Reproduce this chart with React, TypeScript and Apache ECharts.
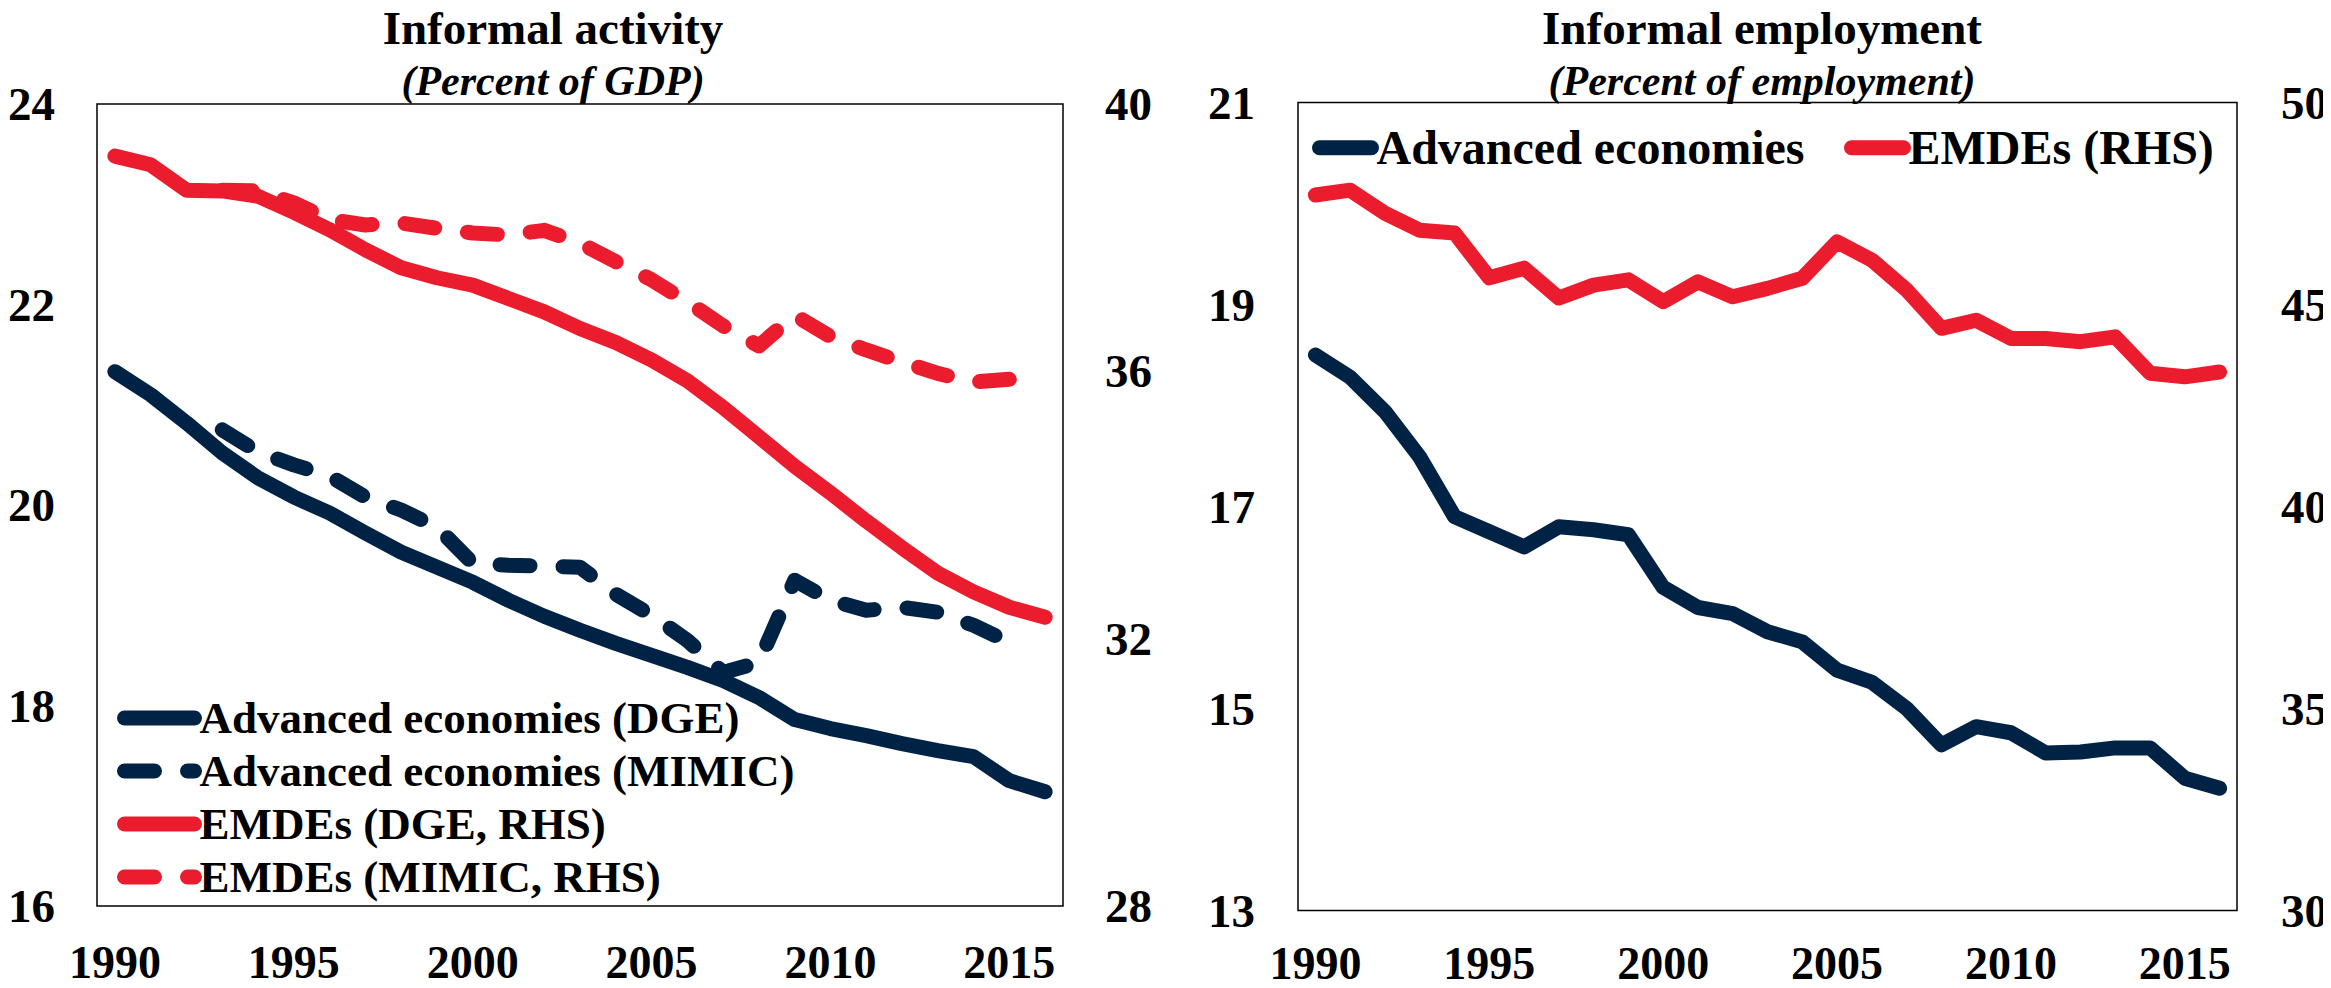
import React, { useEffect, useRef } from 'react';
import * as echarts from 'echarts';

const years = ['1990','1991','1992','1993','1994','1995','1996','1997','1998','1999','2000','2001','2002','2003','2004','2005','2006','2007','2008','2009','2010','2011','2012','2013','2014','2015','2016'];

// Informal activity (percent of GDP)
const advDGE = [21.33,21.10,20.82,20.52,20.27,20.08,19.92,19.72,19.53,19.38,19.23,19.05,18.89,18.75,18.62,18.50,18.38,18.25,18.08,17.86,17.77,17.70,17.62,17.55,17.49,17.25,17.14];
const advMIMIC = [null,null,null,20.75,20.53,20.40,20.29,20.08,19.95,19.78,19.42,19.40,19.39,19.38,19.11,18.90,18.65,18.33,18.43,19.25,19.05,18.95,18.98,18.93,18.80,18.63,null];
const emdeDGE = [39.22,39.09,38.71,38.70,38.62,38.38,38.12,37.82,37.55,37.40,37.29,37.09,36.89,36.64,36.43,36.17,35.86,35.46,35.02,34.58,34.18,33.76,33.36,32.98,32.70,32.47,32.32];
const emdeMIMIC = [null,null,null,38.71,38.70,38.52,38.27,38.19,38.22,38.14,38.07,38.04,38.11,37.92,37.64,37.37,37.04,36.68,36.38,36.84,36.52,36.32,36.14,35.97,35.84,35.88,null];

// Informal employment (percent of employment)
const advEmp = [18.50,18.28,17.94,17.49,16.90,16.75,16.60,16.80,16.77,16.72,16.20,16.00,15.94,15.76,15.66,15.38,15.26,15.00,14.64,14.82,14.76,14.56,14.57,14.61,14.61,14.31,14.21];
const emdeEmp = [47.71,47.83,47.26,46.84,46.77,45.66,45.90,45.16,45.48,45.61,45.07,45.56,45.19,45.40,45.65,46.55,46.10,45.36,44.41,44.61,44.16,44.16,44.08,44.20,43.30,43.21,43.33];

const leftTicksL = { min: 16, max: 24, interval: 2 };
const leftTicksR = { min: 28, max: 40, interval: 4 };
const rightTicksL = { min: 13, max: 21, interval: 2 };
const rightTicksR = { min: 30, max: 50, interval: 5 };

const names = {
  advDGE: 'Advanced economies (DGE)',
  advMIMIC: 'Advanced economies (MIMIC)',
  emdeDGE: 'EMDEs (DGE, RHS)',
  emdeMIMIC: 'EMDEs (MIMIC, RHS)',
  advEmp: 'Advanced economies',
  emdeEmp: 'EMDEs (RHS)',
};

const FONT = '"Liberation Serif", "Times New Roman", Times, serif';
const NAVY = '#002345';
const RED = '#EB1C2D';
const LW = 15;
const DASH = [30, 33];

export default function App() {
  const ref = useRef<HTMLDivElement>(null);
  useEffect(() => {
    if (!ref.current) return;
    const chart = echarts.init(ref.current, undefined, { renderer: 'svg' });
    const label = (margin: number, fs = 47) => ({
      fontSize: fs, fontWeight: 'bold', color: '#000', fontFamily: FONT, margin,
    });
    const xAx = (gridIndex: number, margin: number) => ({
      type: 'category', gridIndex, data: years, boundaryGap: true,
      axisLine: { show: false }, axisTick: { show: false }, splitLine: { show: false },
      axisLabel: { ...label(margin, 46), interval: 4, lineHeight: 34 },
    });
    const yAx = (gridIndex: number, t: any, position: string, margin: number) => ({
      type: 'value', gridIndex, position, min: t.min, max: t.max, interval: t.interval,
      axisLine: { show: false }, axisTick: { show: false }, splitLine: { show: false },
      axisLabel: label(margin),
    });
    const line = (name: string, data: any[], color: string, xi: number, yi: number, dashed: boolean) => ({
      type: 'line', name, data, xAxisIndex: xi, yAxisIndex: yi, symbol: 'none', showSymbol: false,
      connectNulls: false,
      lineStyle: { color, width: LW, type: dashed ? DASH : 'solid', cap: 'round', join: 'round' },
      itemStyle: { color },
      emphasis: { disabled: true },
    });
    const legendText = (fs: number) => ({ fontSize: fs, fontWeight: 'bold', color: '#000', fontFamily: FONT, lineHeight: fs });
    const legendCommon = {
      padding: 0, itemHeight: 16, selectedMode: false,
      lineStyle: { width: LW, cap: 'round' },
      itemStyle: { opacity: 0 },
    };
    const option: any = {
      animation: false,
      backgroundColor: '#fff',
      textStyle: { fontFamily: FONT },
      grid: [
        { left: 97, top: 104, width: 966, height: 802, show: true, borderColor: '#000', borderWidth: 1.5, backgroundColor: 'transparent' },
        { left: 1298, top: 102.5, width: 941, height: 808, show: true, borderColor: '#000', borderWidth: 1.5, backgroundColor: 'transparent' },
      ],
      xAxis: [xAx(0, 39), xAx(1, 36)],
      yAxis: [
        yAx(0, leftTicksL, 'left', 42),
        yAx(0, leftTicksR, 'right', 42),
        yAx(1, rightTicksL, 'left', 43),
        yAx(1, rightTicksR, 'right', 44),
      ],
      legend: [
        { ...legendCommon, textStyle: legendText(45), data: [names.advDGE, names.advMIMIC, names.emdeDGE, names.emdeMIMIC], orient: 'vertical', left: 117, top: 695.5, itemWidth: 70, itemGap: 8 },
        { ...legendCommon, textStyle: legendText(48), data: [names.advEmp], orient: 'horizontal', left: 1312, top: 123.7, itemWidth: 52 },
        { ...legendCommon, textStyle: legendText(48), data: [names.emdeEmp], orient: 'horizontal', left: 1844, top: 123.7, itemWidth: 52 },
      ],
      series: [
        line(names.advDGE, advDGE, NAVY, 0, 0, false),
        line(names.advMIMIC, advMIMIC, NAVY, 0, 0, true),
        line(names.emdeDGE, emdeDGE, RED, 0, 1, false),
        line(names.emdeMIMIC, emdeMIMIC, RED, 0, 1, true),
        line(names.advEmp, advEmp, NAVY, 1, 2, false),
        line(names.emdeEmp, emdeEmp, RED, 1, 3, false),
      ],
      graphic: [
        { type: 'text', x: 553, y: 27.5, style: { text: 'Informal activity', fontSize: 47, fontWeight: 'bold', fontFamily: FONT, fill: '#000', align: 'center', verticalAlign: 'middle' } },
        { type: 'text', x: 553, y: 81, style: { text: '(Percent of GDP)', fontSize: 42, fontWeight: 'bold', fontStyle: 'italic', fontFamily: FONT, fill: '#000', align: 'center', verticalAlign: 'middle' } },
        { type: 'text', x: 1762, y: 27.5, style: { text: 'Informal employment', fontSize: 47, fontWeight: 'bold', fontFamily: FONT, fill: '#000', align: 'center', verticalAlign: 'middle' } },
        { type: 'text', x: 1762, y: 81, style: { text: '(Percent of employment)', fontSize: 42, fontWeight: 'bold', fontStyle: 'italic', fontFamily: FONT, fill: '#000', align: 'center', verticalAlign: 'middle' } },
      ],
    };
    chart.setOption(option);
    return () => chart.dispose();
  }, []);
  return <div ref={ref} style={{ width: 2331, height: 988, margin: -8 }} />;
}
